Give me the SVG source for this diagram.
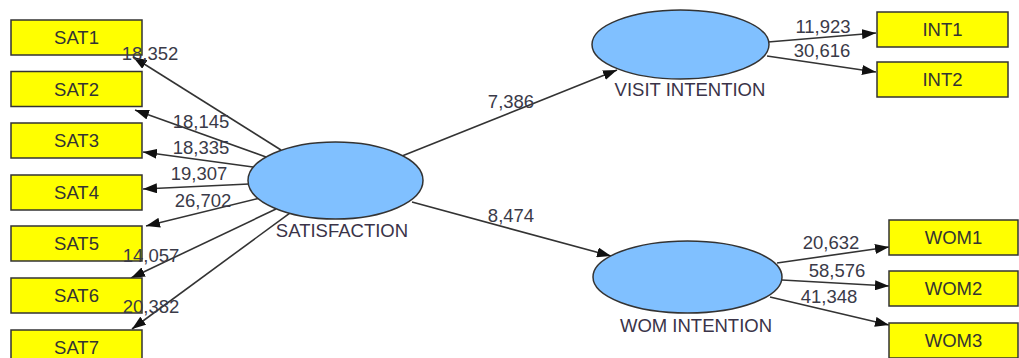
<svg xmlns="http://www.w3.org/2000/svg" width="1019" height="358" viewBox="0 0 1019 358">
<style>
.box{fill:#ffff00;stroke:#333;stroke-width:1.5}
.ell{fill:#80c0ff;stroke:#333;stroke-width:1.5}
.bt{font-family:"Liberation Sans",Arial,sans-serif;font-size:18.5px;fill:#333;text-anchor:middle}
.lt{font-family:"Liberation Sans",Arial,sans-serif;font-size:18.5px;fill:#3a3348;text-anchor:middle}
.nt{font-family:"Liberation Sans",Arial,sans-serif;font-size:18.5px;fill:#3a3a48;text-anchor:middle}
.ln{stroke:#333;stroke-width:1.6;fill:none;marker-end:url(#ah)}
</style>
<defs>
<marker id="ah" markerUnits="userSpaceOnUse" markerWidth="14" markerHeight="10" viewBox="0 0 14 10" refX="14" refY="5" orient="auto">
<path d="M0,0 L14,5 L0,10 Z" fill="#111"/>
</marker>
</defs>
<rect width="1019" height="358" fill="#fff"/>
<g id="connectors">
<line class="ln" x1="281" y1="150" x2="133" y2="57"/>
<line class="ln" x1="266" y1="157" x2="135" y2="110"/>
<line class="ln" x1="253" y1="167" x2="143" y2="152"/>
<line class="ln" x1="249" y1="184" x2="143" y2="189"/>
<line class="ln" x1="258" y1="198.5" x2="146" y2="226"/>
<line class="ln" x1="276" y1="209" x2="131" y2="278"/>
<line class="ln" x1="289.5" y1="213.3" x2="132" y2="329"/>
<line class="ln" x1="402" y1="156" x2="617" y2="70"/>
<line class="ln" x1="412" y1="202" x2="611" y2="256"/>
<line class="ln" x1="768" y1="42" x2="876" y2="33"/>
<line class="ln" x1="767" y1="56" x2="876" y2="72"/>
<line class="ln" x1="777" y1="263" x2="889" y2="247"/>
<line class="ln" x1="782" y1="280" x2="889" y2="286"/>
<line class="ln" x1="770" y1="297" x2="889" y2="325"/>
</g>
<g id="SAT1"><rect class="box" x="11" y="20" width="131" height="35"/><text class="bt" x="76.5" y="44">SAT1</text></g>
<g id="SAT2"><rect class="box" x="11" y="71.5" width="131" height="35"/><text class="bt" x="76.5" y="95.5">SAT2</text></g>
<g id="SAT3"><rect class="box" x="11" y="123" width="131" height="35"/><text class="bt" x="76.5" y="147">SAT3</text></g>
<g id="SAT4"><rect class="box" x="11" y="175" width="131" height="35"/><text class="bt" x="76.5" y="199">SAT4</text></g>
<g id="SAT5"><rect class="box" x="11" y="226" width="131" height="35"/><text class="bt" x="76.5" y="250">SAT5</text></g>
<g id="SAT6"><rect class="box" x="11" y="278" width="131" height="35"/><text class="bt" x="76.5" y="302">SAT6</text></g>
<g id="SAT7"><rect class="box" x="11" y="330" width="131" height="35"/><text class="bt" x="76.5" y="354">SAT7</text></g>
<g id="SATISFACTION"><ellipse class="ell" cx="335.5" cy="180.5" rx="87.5" ry="38.5"/><text class="lt" x="342" y="237">SATISFACTION</text></g>
<g id="VISIT_INTENTION"><ellipse class="ell" cx="680.5" cy="44.5" rx="88.5" ry="34.5"/><text class="lt" x="690" y="96">VISIT INTENTION</text></g>
<g id="WOM_INTENTION"><ellipse class="ell" cx="687.5" cy="277" rx="94.5" ry="36"/><text class="lt" x="696" y="332">WOM INTENTION</text></g>
<g id="INT1"><rect class="box" x="877" y="12" width="131" height="35"/><text class="bt" x="942.5" y="36">INT1</text></g>
<g id="INT2"><rect class="box" x="877" y="62" width="131" height="35"/><text class="bt" x="942.5" y="86">INT2</text></g>
<g id="WOM1"><rect class="box" x="889" y="220" width="129" height="35"/><text class="bt" x="953.5" y="244">WOM1</text></g>
<g id="WOM2"><rect class="box" x="889" y="271" width="129" height="35"/><text class="bt" x="953.5" y="295">WOM2</text></g>
<g id="WOM3"><rect class="box" x="889" y="323" width="129" height="35"/><text class="bt" x="953.5" y="347">WOM3</text></g>
<g id="labels">
<text class="nt" x="150" y="60">18,352</text>
<text class="nt" x="201" y="128">18,145</text>
<text class="nt" x="201" y="154">18,335</text>
<text class="nt" x="199" y="180">19,307</text>
<text class="nt" x="203" y="207">26,702</text>
<text class="nt" x="151" y="262">14,057</text>
<text class="nt" x="151" y="313">20,382</text>
<text class="nt" x="511" y="108">7,386</text>
<text class="nt" x="511" y="222">8,474</text>
<text class="nt" x="823" y="33">11,923</text>
<text class="nt" x="822" y="57">30,616</text>
<text class="nt" x="831" y="249">20,632</text>
<text class="nt" x="837" y="277">58,576</text>
<text class="nt" x="829" y="303">41,348</text>
</g>
</svg>
